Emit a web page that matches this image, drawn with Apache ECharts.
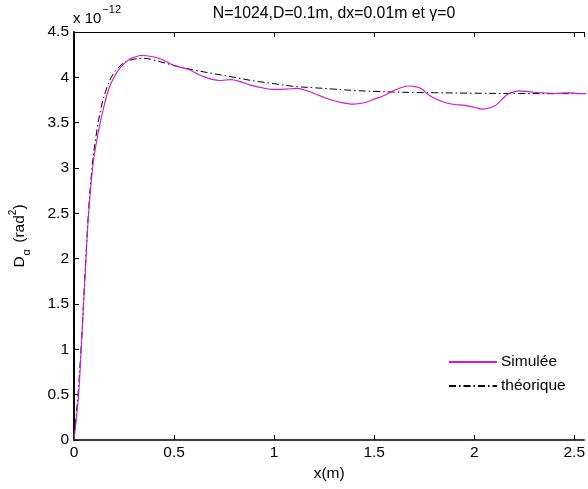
<!DOCTYPE html>
<html><head><meta charset="utf-8">
<script src="https://cdn.jsdelivr.net/npm/echarts@6/dist/echarts.min.js"></script>
<style>html,body{margin:0;padding:0;background:#fff}#c{width:588px;height:489px}</style>
</head><body><div id="c"></div>
<script>
const xTicks = [0, 0.5, 1, 1.5, 2, 2.5];
const yTicks = [0, 0.5, 1, 1.5, 2, 2.5, 3, 3.5, 4, 4.5];

const simX = [0, 0.023, 0.036, 0.048, 0.06, 0.073, 0.093, 0.111, 0.139, 0.172, 0.2, 0.222, 0.25, 0.271, 0.3, 0.337, 0.387, 0.437, 0.5, 0.569, 0.635, 0.685, 0.734, 0.784, 0.834, 0.883, 0.94, 0.998, 1.06, 1.115, 1.165, 1.264, 1.33, 1.396, 1.45, 1.495, 1.55, 1.595, 1.64, 1.677, 1.71, 1.735, 1.776, 1.843, 1.9, 1.942, 2.0, 2.041, 2.08, 2.108, 2.15, 2.174, 2.223, 2.28, 2.339, 2.405, 2.471, 2.521, 2.6];
const simY = [0, 0.5, 1.0, 1.5, 2.0, 2.5, 3.0, 3.27, 3.58, 3.86, 4.0, 4.08, 4.15, 4.19, 4.22, 4.24, 4.23, 4.2, 4.13, 4.09, 4.02, 3.98, 3.965, 3.975, 3.95, 3.914, 3.885, 3.867, 3.87, 3.878, 3.851, 3.767, 3.725, 3.704, 3.72, 3.756, 3.8, 3.851, 3.89, 3.905, 3.895, 3.877, 3.8, 3.73, 3.7, 3.693, 3.67, 3.649, 3.665, 3.693, 3.78, 3.822, 3.851, 3.84, 3.829, 3.822, 3.829, 3.822, 3.82];

const theoX = [0, 0.02, 0.035, 0.047, 0.059, 0.072, 0.09, 0.11, 0.135, 0.165, 0.2, 0.25, 0.3, 0.35, 0.4, 0.5, 0.6, 0.7, 0.8, 0.9, 1.0, 1.1, 1.2, 1.3, 1.4, 1.5, 1.6, 1.7, 1.8, 2.0, 2.2, 2.4, 2.6];
const theoY = [0, 0.5, 1.0, 1.5, 2.0, 2.5, 3.0, 3.35, 3.66, 3.89, 4.05, 4.16, 4.2, 4.21, 4.19, 4.13, 4.08, 4.04, 4.0, 3.96, 3.93, 3.9, 3.885, 3.87, 3.855, 3.845, 3.838, 3.833, 3.83, 3.825, 3.822, 3.82, 3.82];

const FONT = '"Liberation Sans", Arial, Helvetica, sans-serif';
const FS = 15.5;
const chart = echarts.init(document.getElementById('c'), null, {renderer: 'canvas'});
const zip = (a, b) => a.map((v, i) => [v, b[i]]);

chart.setOption({
  animation: false,
  backgroundColor: '#fff',
  textStyle: {fontFamily: FONT},
  grid: {left: 72, top: 32, right: 0, bottom: 49, containLabel: false},
  legend: {
    orient: 'vertical', left: 448, top: 354, padding: 0, itemGap: 8,
    itemWidth: 48, itemHeight: 14,
    itemStyle: {opacity: 0},
    textStyle: {fontFamily: FONT, fontSize: FS, color: '#000', padding: [0,0,0,-1]},
    data: ['Simulée', 'théorique']
  },
  graphic: [
    {type: 'text', style: {text: 'N=1024,D=0.1m, dx=0.01m et γ=0', x: 334, y: 14, align: 'center', verticalAlign: 'middle', font: '15.8px ' + FONT, fill: '#000'}},
    {type: 'text', style: {text: '{a|x 10}{s|−12}', x: 73, y: 4, fill: '#000',
      rich: {a: {fontSize: 15, fontFamily: FONT, color: '#000', verticalAlign: 'bottom', lineHeight: 22},
             s: {fontSize: 11, fontFamily: FONT, color: '#000', verticalAlign: 'top', lineHeight: 22, padding: [0,0,0,1]}}}}
  ],
  xAxis: [{
    type: 'value', min: 0, max: 2.55, interval: 0.5, position: 'bottom',
    name: 'x(m)', nameLocation: 'middle', nameGap: 25,
    nameTextStyle: {fontSize: FS, color: '#000', fontFamily: FONT},
    axisLine: {show: true, onZero: false, lineStyle: {color: '#000', width: 1.5}},
    axisTick: {show: true, inside: true, length: 5, lineStyle: {color: '#000', width: 1}},
    axisLabel: {color: '#000', fontSize: FS, margin: 5, fontFamily: FONT, showMaxLabel: false,
      formatter: v => xTicks.includes(v) ? String(v) : ''},
    splitLine: {show: false}
  }, {
    type: 'value', min: 0, max: 2.55, interval: 0.5, position: 'top',
    axisLine: {show: true, onZero: false, lineStyle: {color: '#000', width: 1}},
    axisTick: {show: true, inside: true, length: 5, lineStyle: {color: '#000', width: 1}},
    axisLabel: {show: false}, splitLine: {show: false}
  }],
  yAxis: [{
    type: 'value', min: 0, max: 4.5, interval: 0.5,
    name: '{a|D}{b|α}{a| (rad}{c|2}{a|)}', nameLocation: 'middle', nameGap: 42, nameRotate: 90,
    nameTextStyle: {color: '#000', fontFamily: FONT,
      rich: {a: {fontSize: FS, fontFamily: FONT, color: '#000', verticalAlign: 'middle', lineHeight: 24},
             b: {fontSize: 11, fontFamily: FONT, color: '#000', verticalAlign: 'bottom', lineHeight: 24, padding: [0,2,0,1]},
             c: {fontSize: 10, fontFamily: FONT, color: '#000', verticalAlign: 'top', lineHeight: 24}}},
    axisLine: {show: true, onZero: false, lineStyle: {color: '#000', width: 2}},
    axisTick: {show: true, inside: true, length: 5, lineStyle: {color: '#000', width: 1}},
    axisLabel: {color: '#000', fontSize: FS, margin: 5, fontFamily: FONT,
      formatter: v => yTicks.includes(v) ? String(v) : ''},
    splitLine: {show: false}
  }],
  series: [{
    name: 'Simulée', type: 'line', xAxisIndex: 0, data: zip(simX, simY),
    symbol: 'none', smooth: 0.35, lineStyle: {color: '#d811d8', width: 1.1}, itemStyle: {color: '#d811d8'}, z: 3
  }, {
    name: 'théorique', type: 'line', xAxisIndex: 0, data: zip(theoX, theoY),
    symbol: 'none', smooth: 0.35, lineStyle: {color: '#000', width: 1, type: [7, 3, 1.5, 3]}, itemStyle: {color: '#000'}, z: 2
  }]
});
</script></body></html>
